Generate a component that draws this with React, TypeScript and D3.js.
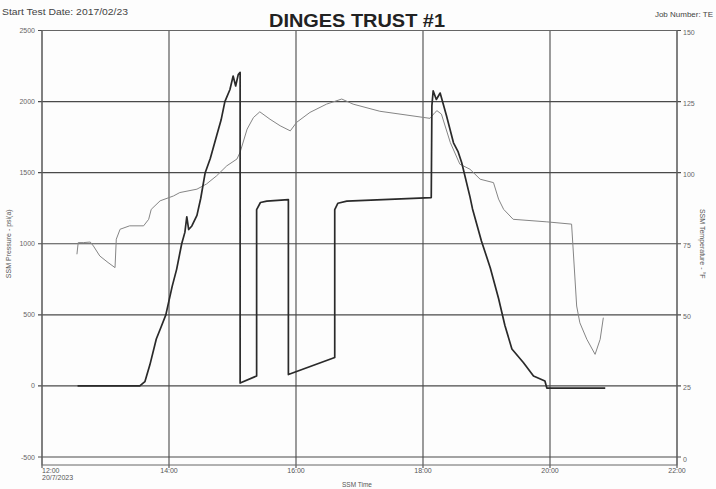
import React from 'react';
import * as d3 from 'd3';

// time in decimal hours, pressure in psi(a), temperature in °F
const pressureTime = [
  12.56, 13.54, 13.62, 13.7, 13.8, 13.88, 13.95, 14.05, 14.12, 14.2, 14.25, 14.28, 14.31, 14.36, 14.44,
  14.5, 14.57, 14.65, 14.75, 14.82, 14.88, 14.96, 15.01, 15.05, 15.09, 15.12, 15.12, 15.38, 15.38, 15.44,
  15.54, 15.88, 15.88, 16.61, 16.61, 16.66, 16.8, 18.13, 18.14, 18.16, 18.21, 18.27, 18.37, 18.48, 18.55,
  18.61, 18.74, 18.78, 18.92, 19.06, 19.19, 19.29, 19.4, 19.58, 19.74, 19.92, 19.95, 20.87,
];
const pressureValue = [
  0, 0, 30, 150, 330, 420, 500, 700, 820, 1000, 1080, 1190, 1100, 1125, 1200,
  1320, 1500, 1600, 1760, 1870, 2000, 2085, 2180, 2110, 2190, 2205, 20, 70, 1240, 1290,
  1300, 1310, 80, 200, 1240, 1285, 1300, 1325, 1970, 2075, 2015, 2060, 1900, 1710, 1650,
  1570, 1330, 1245, 1020, 830, 615, 425, 260, 165, 70, 35, -15, -15,
];

const tempTime = [
  12.55, 12.57, 12.65, 12.76, 12.81, 12.91, 13.04, 13.15, 13.17, 13.23, 13.38, 13.6, 13.68, 13.72, 13.86,
  14.07, 14.17, 14.44, 14.59, 14.75, 14.91, 15.07, 15.12, 15.23, 15.33, 15.43, 15.59, 15.75, 15.91, 16.01,
  16.22, 16.48, 16.72, 16.9, 17.32, 18.11, 18.19, 18.22, 18.29, 18.43, 18.58, 18.74, 18.9, 19.11, 19.19,
  19.27, 19.42, 19.95, 20.34, 20.42, 20.47, 20.58, 20.71, 20.79, 20.84,
];
const tempValue = [
  71.3, 75.4, 75.4, 75.6, 74.2, 70.7, 68.4, 66.6, 76.6, 80.1, 81.3, 81.3, 83.6, 87.1, 90.1,
  91.8, 93, 94.2, 96, 98.9, 102.4, 104.8, 107.2, 115.3, 119.4, 121.4, 118.8, 116.5, 114.7, 117.7,
  121.2, 124.1, 125.9, 124.1, 121.6, 119.1, 121.2, 121.8, 120.6, 110.6, 103, 101.2, 97.7, 96.5, 90.7,
  87.1, 83.6, 82.7, 81.9, 53.1, 47.2, 41.4, 36.1, 41.4, 49,
];

const timeTicks = [12, 14, 16, 18, 20, 22];
const timeLabels = ['12:00', '14:00', '16:00', '18:00', '20:00', '22:00'];
const pressureTicks = [-500, 0, 500, 1000, 1500, 2000, 2500];
const tempTicks = [0, 25, 50, 75, 100, 125, 150];

const W = 716;
const H = 489;
const left = 42;
const right = 677;
const top = 30.5;
const bottom = 457;
const frameBottom = 465;
const font = '"Liberation Sans", Arial, sans-serif';

export default function App() {
  const x = d3.scaleLinear().domain([12, 22]).range([left, right]);
  const yP = d3.scaleLinear().domain([-500, 2500]).range([bottom, top]);
  const yT = d3.scaleLinear().domain([0, 150]).range([bottom, top]);

  const pLine = d3.line<number>()
    .x((_, i) => x(pressureTime[i]))
    .y(d => yP(d));
  const tLine = d3.line<number>()
    .x((_, i) => x(tempTime[i]))
    .y(d => yT(d));

  return (
    <svg width={W} height={H} style={{ position: 'absolute', left: 0, top: 0, background: '#fff' }}
      fontFamily={font}>
      <rect width={W} height={H} fill="#fdfdfd" />

      {/* header */}
      <text x={2} y={15} fontSize={8.5} fill="#444" textLength={126} lengthAdjust="spacingAndGlyphs">
        Start Test Date: 2017/02/23
      </text>
      <text x={W / 2 - 1} y={27} textAnchor="middle" fontSize={19} fontWeight="bold" fill="#222"
        textLength={176} lengthAdjust="spacingAndGlyphs">DINGES TRUST #1</text>
      <text x={713} y={17} textAnchor="end" fontSize={8} fill="#444">Job Number: TE</text>

      {/* grid */}
      {pressureTicks.map(t => (
        <g key={'p' + t}>
          <line x1={left - 4} x2={right + 4} y1={yP(t)} y2={yP(t)} stroke="#4a4a4a" strokeWidth={1.1} />
          <text x={left - 7} y={yP(t) + 2.5} textAnchor="end" fontSize={7} fill="#666">{t}</text>
        </g>
      ))}
      {tempTicks.map(t => (
        <text key={'t' + t} x={right + 6} y={yT(t) + 4.5} fontSize={7} fill="#666">{t}</text>
      ))}
      {timeTicks.map((t, i) => (
        <g key={'x' + t}>
          <line x1={x(t)} x2={x(t)} y1={top} y2={frameBottom + 3} stroke="#4a4a4a" strokeWidth={1.1} />
          <text x={x(t)} y={frameBottom + 8} textAnchor={i === 0 ? 'start' : 'middle'}
            fontSize={7} fill="#555">{timeLabels[i]}</text>
        </g>
      ))}
      <text x={left} y={frameBottom + 15} fontSize={7} fill="#555">20/7/2023</text>
      <rect x={left} y={top} width={right - left} height={frameBottom - top} fill="none" stroke="#666" strokeWidth={1} />

      {/* axis titles */}
      <text x={W / 2 - 1} y={487} textAnchor="middle" fontSize={6.5} fill="#555">SSM Time</text>
      <text transform={`translate(11,${(top + bottom) / 2}) rotate(-90)`} textAnchor="middle" fontSize={7} fill="#555">
        SSM Pressure - psi(a)
      </text>
      <text transform={`translate(700,${(top + bottom) / 2}) rotate(90)`} textAnchor="middle" fontSize={7} fill="#555">
        SSM Temperature - °F
      </text>

      {/* series */}
      <path d={tLine(tempValue) ?? ''} fill="none" stroke="#858585" strokeWidth={1} strokeLinejoin="round" />
      <path d={pLine(pressureValue) ?? ''} fill="none" stroke="#2a2a2a" strokeWidth={1.7} strokeLinejoin="round" />
    </svg>
  );
}
